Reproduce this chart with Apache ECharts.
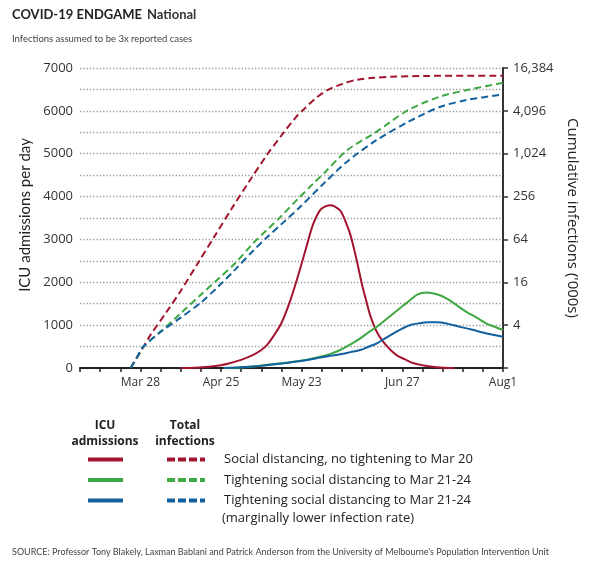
<!DOCTYPE html>
<html><head><meta charset="utf-8">
<script src="https://cdn.jsdelivr.net/npm/echarts@6/dist/echarts.min.js"></script>
<style>html,body{margin:0;padding:0;background:#fff}#c{width:600px;height:566px}</style>
</head><body><div id="c"></div>
<script>
// x axis: days since Mar 7 (weekly ticks)
const xTickDays = [21, 49, 77, 112, 147];
const xTickText = ['Mar 28', 'Apr 25', 'May 23', 'Jun 27', 'Aug1'];

// ICU admissions per day (solid lines, left axis)
const icuRedDays = [35, 40, 45, 49, 52, 56, 60, 63, 65, 67, 70, 73, 76, 79, 81, 83.5, 85.5, 87, 88.5, 90.5, 92.5, 94, 96, 98, 99.4, 101, 103.4, 106.8, 110, 113, 116, 119.4, 124, 130];
const icuRedVals = [0, 8, 30, 65, 110, 190, 300, 420, 540, 720, 1050, 1560, 2200, 2900, 3350, 3690, 3775, 3800, 3770, 3670, 3380, 3100, 2560, 1950, 1586, 1197, 810, 497, 300, 200, 110, 60, 20, 0];

const icuGreenDays = [50, 55, 60, 64, 70, 75.4, 80, 83.5, 87, 90.4, 94, 97.4, 100, 103.2, 106, 109, 112, 114.8, 117.3, 120.5, 124, 127.5, 131, 134, 138, 141.5, 144.5, 147];
const icuGreenVals = [0, 10, 35, 65, 110, 160, 210, 264, 330, 420, 550, 693, 820, 964, 1115, 1276, 1440, 1586, 1720, 1760, 1720, 1620, 1460, 1320, 1170, 1030, 950, 887];

const icuBlueDays = [50, 55, 60, 64, 70, 75.4, 80, 83.5, 87, 90.4, 94, 97.4, 100, 103.2, 106, 109, 112, 114.8, 118, 121, 124, 128, 132, 136, 140, 144, 147];
const icuBlueVals = [0, 10, 33, 60, 105, 150, 200, 245, 285, 320, 370, 420, 490, 576, 690, 810, 920, 1003, 1045, 1065, 1066, 1030, 960, 900, 830, 770, 730];

// Cumulative infections ('000s) (dashed lines, right log2 axis)
const totRedDays = [17.6, 21, 24.3, 30, 35, 41, 47, 53, 59, 65, 70, 75, 78, 82, 86, 91, 96, 102, 108, 120, 147];
const totRedVals = [1, 1.68, 2.83, 6.06, 12.1, 29.9, 73.5, 181, 431, 989, 1846, 3327, 4390, 6208, 8023, 9742, 11113, 11911, 12331, 12678, 12766];

const totGreenDays = [17.6, 20, 22, 28, 35, 42, 48, 54, 60, 65, 70, 76, 81, 85, 93, 103, 114, 125, 134.5, 147];
const totGreenVals = [1, 1.46, 1.99, 3.25, 5.86, 10.7, 17.8, 29.9, 55.7, 87.4, 137, 244, 388, 556, 1160, 2077, 4182, 6472, 8023, 10156];

const totBlueDays = [17.6, 20, 22, 28, 35, 42, 48, 54, 60, 65, 70, 76, 85, 93, 103, 114, 125, 134.5, 147];
const totBlueVals = [1, 1.46, 1.99, 3.2, 5.1, 8.28, 13.9, 24.3, 43.7, 68.6, 105, 175, 402, 803, 1585, 2856, 4640, 5833, 6936];

const legendLabels = ['Social distancing, no tightening to Mar 20', 'Tightening social distancing to Mar 21-24', 'Tightening social distancing to Mar 21-24'];

const RED = '#a3142e', GREEN = '#3fa744', BLUE = '#13609e';
const zip = (d, v) => d.map((x, i) => [x, v[i]]);
const FONT = 'Open Sans';

const chart = echarts.init(document.getElementById('c'), null, {renderer: 'canvas'});
const solid = (name, d, v, c) => ({name, type: 'line', yAxisIndex: 0, data: zip(d, v), symbol: 'none', smooth: 0.35,
  lineStyle: {color: c, width: 2}, itemStyle: {color: c}, z: 3});
const dashed = (name, d, v, c) => ({name, type: 'line', yAxisIndex: 1, data: zip(d, v), symbol: 'none', smooth: 0.3,
  lineStyle: {color: c, width: 2, type: [7, 4]}, itemStyle: {color: c}, z: 2});

chart.setOption({
  animation: false,
  title: [
    {text: '{b|COVID-19 ENDGAME} {n|National}', left: 12, top: 6, padding: 0,
      textStyle: {rich: {b: {fontFamily: 'Lato', fontWeight: 'bold', fontSize: 13, color: '#222'}, n: {fontFamily: 'Lato', fontSize: 13, color: '#333'}}}},
    {text: 'Infections assumed to be 3x reported cases', left: 12, top: 34, padding: 0,
      textStyle: {fontFamily: 'Lato', fontSize: 9.5, fontWeight: 'normal', color: '#444'}},
    {text: "SOURCE: Professor Tony Blakely, Laxman Bablani and Patrick Anderson from the University of Melbourne's Population Intervention Unit", left: 12, top: 548, padding: 0,
      textStyle: {fontFamily: 'Lato', fontSize: 9, fontWeight: 'normal', color: '#444'}}
  ],
  grid: {left: 80, right: 97, top: 68, bottom: 198, containLabel: false},
  xAxis: {type: 'value', min: 0, max: 147, interval: 7,
    axisLine: {lineStyle: {color: '#222', width: 2}},
    axisTick: {show: true, length: 4, lineStyle: {color: '#222', width: 1.5}},
    axisLabel: {fontFamily: FONT, fontSize: 12, color: '#333', margin: 9, showMaxLabel: true, showMinLabel: true,
      formatter: v => { const i = xTickDays.indexOf(Math.round(v)); return i >= 0 ? xTickText[i] : ''; }},
    splitLine: {show: false}},
  yAxis: [
    {type: 'value', min: 0, max: 7000, interval: 500, position: 'left',
      name: 'ICU admissions per day', nameLocation: 'middle', nameGap: 45,
      nameTextStyle: {fontFamily: 'Lato', fontSize: 15, color: '#222', padding: [0, 0, 0, 6]},
      axisLine: {show: false}, axisTick: {show: false},
      axisLabel: {fontFamily: FONT, fontSize: 13, color: '#333', margin: 7,
        formatter: v => (v % 1000 === 0 ? String(v) : '')},
      splitLine: {show: true, lineStyle: {color: '#999', width: 1.3, type: [1.3, 2]}}},
    {type: 'log', logBase: 2, min: 1, max: 16384, interval: 2, position: 'right',
      name: "Cumulative infections ('000s)", nameLocation: 'middle', nameGap: 43, nameRotate: -90,
      nameTextStyle: {fontFamily: FONT, fontSize: 15, color: '#222'},
      axisLine: {show: true, onZero: false, lineStyle: {color: '#333', width: 2}},
      axisTick: {show: true, length: 5, lineStyle: {color: '#333', width: 1.5}},
      axisLabel: {fontFamily: FONT, fontSize: 13, color: '#333', margin: 10,
        formatter: v => { const r = Math.round(v); return r <= 1 ? '' : r.toLocaleString('en-US'); }},
      splitLine: {show: false}}
  ],
  legend: [
    {data: ['icuRed', 'icuGreen', 'icuBlue'], orient: 'vertical', left: 86, top: 453, padding: 0,
      itemWidth: 35, itemHeight: 14, itemGap: 7.5, selectedMode: false,
      itemStyle: {opacity: 0}, lineStyle: {width: 4}, textStyle: {fontSize: 13}, formatter: () => ' '},
    {data: ['totRed', 'totGreen', 'totBlue'], orient: 'vertical', left: 165, top: 453, padding: 0,
      itemWidth: 38, itemHeight: 14, itemGap: 7.5, selectedMode: false,
      itemStyle: {opacity: 0}, lineStyle: {width: 4, type: [8, 3]},
      textStyle: {fontFamily: FONT, fontSize: 13, color: '#222', padding: [0, 0, 0, 14]},
      formatter: n => legendLabels[['totRed', 'totGreen', 'totBlue'].indexOf(n)]}
  ],
  graphic: [
    {type: 'text', x: 105, y: 434, style: {text: 'ICU\nadmissions', font: 'bold 12px "Open Sans"', fill: '#222', textAlign: 'center', textVerticalAlign: 'middle', lineHeight: 16}},
    {type: 'text', x: 185, y: 434, style: {text: 'Total\ninfections', font: 'bold 12px "Open Sans"', fill: '#222', textAlign: 'center', textVerticalAlign: 'middle', lineHeight: 16}},
    {type: 'text', x: 222, y: 518, style: {text: '(marginally lower infection rate)', font: '13px "Open Sans"', fill: '#222', textAlign: 'left', textVerticalAlign: 'middle'}}
  ],
  series: [
    dashed('totRed', totRedDays, totRedVals, RED),
    dashed('totGreen', totGreenDays, totGreenVals, GREEN),
    dashed('totBlue', totBlueDays, totBlueVals, BLUE),
    solid('icuRed', icuRedDays, icuRedVals, RED),
    solid('icuGreen', icuGreenDays, icuGreenVals, GREEN),
    solid('icuBlue', icuBlueDays, icuBlueVals, BLUE)
  ]
});
</script></body></html>
